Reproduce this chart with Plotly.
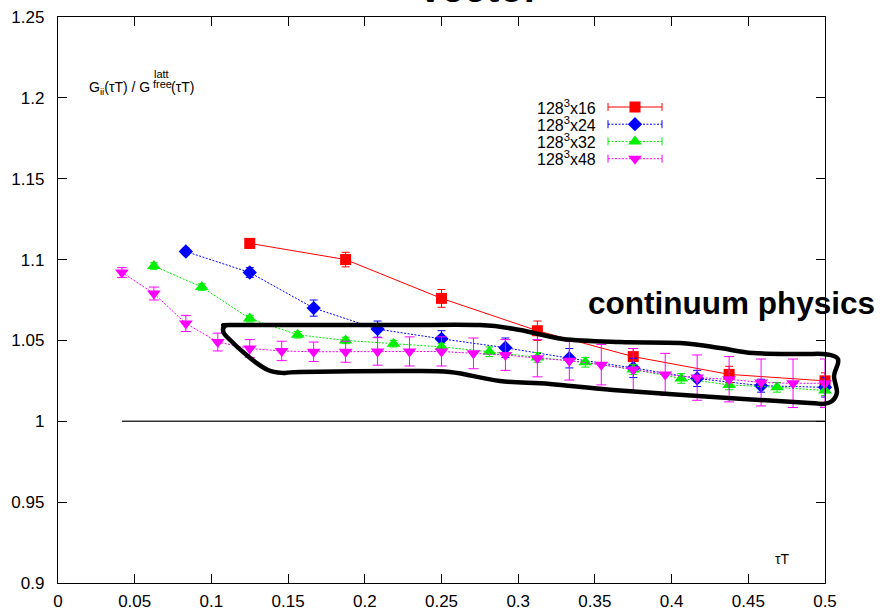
import plotly.graph_objects as go

# ---------------- data ----------------
tau16 = [i / 16 for i in range(2, 9)]
g16 = [1.110, 1.100, 1.076, 1.056, 1.040, 1.029, 1.025]
e16 = [0.003, 0.0045, 0.0055, 0.006, 0.005, 0.005, 0.005]

tau24 = [i / 24 for i in range(2, 13)]
g24 = [1.105, 1.092, 1.070, 1.057, 1.051, 1.0455, 1.039, 1.033, 1.0265, 1.022, 1.021]
e24 = [0.002, 0.003, 0.005, 0.005, 0.005, 0.006, 0.006, 0.006, 0.005, 0.004, 0.006]

tau32 = [i / 32 for i in range(2, 17)]
g32 = [1.096, 1.083, 1.0635, 1.0535, 1.050, 1.048, 1.046, 1.043, 1.0395, 1.0365,
       1.032, 1.0265, 1.0225, 1.021, 1.019]
e32 = [0.002, 0.002, 0.002, 0.002, 0.002, 0.002, 0.002, 0.003, 0.003, 0.003,
       0.003, 0.003, 0.003, 0.003, 0.003]

tau48 = [i / 48 for i in range(2, 25)]
g48 = [1.092, 1.079, 1.0605, 1.049, 1.045, 1.0435, 1.0430, 1.0430, 1.0432, 1.0432,
       1.0432, 1.042, 1.041, 1.039, 1.0375, 1.035, 1.032, 1.029, 1.027, 1.026,
       1.024, 1.0235, 1.0235]
e48 = [0.003, 0.004, 0.005, 0.0055, 0.0055, 0.006, 0.006, 0.0065, 0.0085, 0.009,
       0.009, 0.0095, 0.0095, 0.0115, 0.012, 0.0125, 0.013, 0.013, 0.014, 0.014,
       0.0145, 0.015, 0.015]

free_x = [2 / 48, 0.5]
free_y = [1.0, 1.0]

series_names = ["128<sup>3</sup>x16", "128<sup>3</sup>x24", "128<sup>3</sup>x32", "128<sup>3</sup>x48"]

x_tickvals = [0, 0.05, 0.1, 0.15, 0.2, 0.25, 0.3, 0.35, 0.4, 0.45, 0.5]
x_ticktext = ["0", "0.05", "0.1", "0.15", "0.2", "0.25", "0.3", "0.35", "0.4", "0.45", "0.5"]
y_tickvals = [0.9, 0.95, 1.0, 1.05, 1.1, 1.15, 1.2, 1.25]
y_ticktext = ["0.9", "0.95", "1", "1.05", "1.1", "1.15", "1.2", "1.25"]

# "continuum physics" outline (data coordinates)
loop_x = [0.1121, 0.1578, 0.2229, 0.2751, 0.3012, 0.3292, 0.3664, 0.4055, 0.4316, 0.4531,
          0.4837, 0.4987, 0.5072, 0.5085, 0.5059, 0.5078, 0.5046, 0.4980, 0.4902, 0.4270,
          0.3618, 0.3207, 0.2881, 0.2555, 0.2229, 0.1578, 0.1467, 0.1369, 0.1252, 0.1102,
          0.1076, 0.1089]
loop_y = [1.0595, 1.0595, 1.0595, 1.0595, 1.0565, 1.0509, 1.0490, 1.0484, 1.0453, 1.0422,
          1.0416, 1.0416, 1.0397, 1.0360, 1.0280, 1.0181, 1.0126, 1.0107, 1.0113, 1.0150,
          1.0194, 1.0231, 1.0249, 1.0305, 1.0311, 1.0305, 1.0299, 1.0317, 1.0391, 1.0521,
          1.0565, 1.0589]

# ---------------- layout geometry ----------------
W, H = 882, 610
L, R, T, B = 58, 825, 17, 583
XR = [0.0, 0.5]
YR = [0.9, 1.25]


def px(xp):
    return (xp - L) / (R - L)


def py(yp):
    return (B - yp) / (B - T)


def dx(x):
    return (x - XR[0]) / (XR[1] - XR[0])


def dy(y):
    return (y - YR[0]) / (YR[1] - YR[0])


FONT = "Liberation Sans, Arial, Helvetica, sans-serif"

colors = ["#ff0000", "#0000ff", "#00ee00", "#ff00ff"]
symbols = ["square", "diamond", "triangle-up", "triangle-down"]
msizes = [11, 11, 12, 12]
dashes = ["solid", "2px,1.5px", "2px,1.5px", "2px,1.5px"]
capw = [4, 4, 4, 5]

fig = go.Figure()

fig.add_trace(go.Scatter(x=free_x, y=free_y, mode="lines",
                         line=dict(color="#333333", width=1.4),
                         showlegend=False, hoverinfo="skip"))

data = [(tau16, g16, e16), (tau24, g24, e24), (tau32, g32, e32), (tau48, g48, e48)]
for i, (tx, gy, ey) in enumerate(data):
    fig.add_trace(go.Scatter(
        x=tx, y=gy, mode="lines+markers",
        line=dict(color=colors[i], width=1, dash=dashes[i]),
        marker=dict(symbol=symbols[i], size=msizes[i], color=colors[i], line=dict(width=0)),
        error_y=dict(type="data", array=ey, visible=True, color=colors[i],
                     thickness=1, width=capw[i]),
        showlegend=False, hoverinfo="skip", cliponaxis=False))

# ---------------- manual key (text left, sample right) ----------------
row_base = [114.3, 131.5, 148.7, 166.0]
shapes = []
annotations = []
for i in range(4):
    yc = row_base[i] - 7.3
    fig.add_trace(go.Scatter(
        x=[px(608), px(662)], y=[py(yc), py(yc)], mode="lines",
        line=dict(color=colors[i], width=1, dash=dashes[i]),
        xaxis="x2", yaxis="y2", showlegend=False, hoverinfo="skip"))
    fig.add_trace(go.Scatter(
        x=[px(635)], y=[py(yc)], mode="markers",
        marker=dict(symbol=symbols[i], size=msizes[i], color=colors[i], line=dict(width=0)),
        xaxis="x2", yaxis="y2", showlegend=False, hoverinfo="skip"))
    for xc in (608, 662):
        shapes.append(dict(type="line", xref="paper", yref="paper",
                           x0=px(xc), x1=px(xc), y0=py(yc - 4), y1=py(yc + 4),
                           line=dict(color=colors[i], width=1)))
    annotations.append(dict(text=series_names[i], xref="paper", yref="paper",
                            x=px(598), y=py(row_base[i] + 4.4), xanchor="right", yanchor="bottom",
                            showarrow=False, font=dict(family=FONT, size=16, color="black")))

# ---------------- loop outline as smooth closed path ----------------
pts = [(dx(a), dy(b)) for a, b in zip(loop_x, loop_y)]
n = len(pts)
path = "M %.5f,%.5f" % pts[0]
for i in range(n):
    p0 = pts[(i - 1) % n]
    p1 = pts[i]
    p2 = pts[(i + 1) % n]
    p3 = pts[(i + 2) % n]
    c1 = (p1[0] + (p2[0] - p0[0]) / 6, p1[1] + (p2[1] - p0[1]) / 6)
    c2 = (p2[0] - (p3[0] - p1[0]) / 6, p2[1] - (p3[1] - p1[1]) / 6)
    path += " C %.5f,%.5f %.5f,%.5f %.5f,%.5f" % (c1[0], c1[1], c2[0], c2[1], p2[0], p2[1])
path += " Z"
shapes.append(dict(type="path", xref="paper", yref="paper", path=path,
                   line=dict(color="black", width=4.5), layer="above"))

# ---------------- text annotations ----------------
annotations += [
    dict(text="<b>Vector</b>", xref="paper", yref="paper", x=px(478), y=py(12),
         xanchor="center", yanchor="bottom", showarrow=False,
         font=dict(family=FONT, size=40, color="black")),
    dict(text="<b>continuum physics</b>", xref="paper", yref="paper", x=px(731.5), y=py(322.5),
         xanchor="center", yanchor="bottom", showarrow=False,
         font=dict(family=FONT, size=31.5, color="black")),
    dict(text="τT", xref="paper", yref="paper", x=px(782), y=py(559),
         xanchor="center", yanchor="middle", showarrow=False,
         font=dict(family=FONT, size=14, color="black")),
    dict(text="G<sub>ii</sub>(τT) / G", xref="paper", yref="paper", x=px(152), y=py(76.8),
         xanchor="right", yanchor="top", showarrow=False,
         font=dict(family=FONT, size=14, color="black")),
    dict(text="latt", xref="paper", yref="paper", x=px(152), y=py(66),
         xanchor="left", yanchor="top", showarrow=False,
         font=dict(family=FONT, size=11, color="black")),
    dict(text="free", xref="paper", yref="paper", x=px(151), y=py(76),
         xanchor="left", yanchor="top", showarrow=False,
         font=dict(family=FONT, size=11, color="black")),
    dict(text="(τT)", xref="paper", yref="paper", x=px(169), y=py(76.8),
         xanchor="left", yanchor="top", showarrow=False,
         font=dict(family=FONT, size=14, color="black")),
]

axis_common = dict(showgrid=False, zeroline=False, showline=True, linecolor="black", linewidth=1.3,
                   mirror="ticks", ticks="inside", ticklen=9, tickwidth=1, tickcolor="black",
                   automargin=False,
                   tickfont=dict(family=FONT, size=17, color="black"))

fig.update_layout(
    width=W, height=H,
    margin=dict(l=L, r=W - R, t=T, b=H - B, pad=0, autoexpand=False),
    paper_bgcolor="white", plot_bgcolor="white",
    showlegend=False,
    xaxis=dict(range=XR, tickvals=x_tickvals, ticktext=x_ticktext, ticklabelstandoff=2, **axis_common),
    yaxis=dict(range=YR, tickvals=y_tickvals, ticktext=y_ticktext, ticklabelstandoff=9, **axis_common),
    xaxis2=dict(range=[0, 1], overlaying="x", visible=False),
    yaxis2=dict(range=[0, 1], overlaying="y", visible=False),
    shapes=shapes,
    annotations=annotations,
)

fig.write_html("out.html")
